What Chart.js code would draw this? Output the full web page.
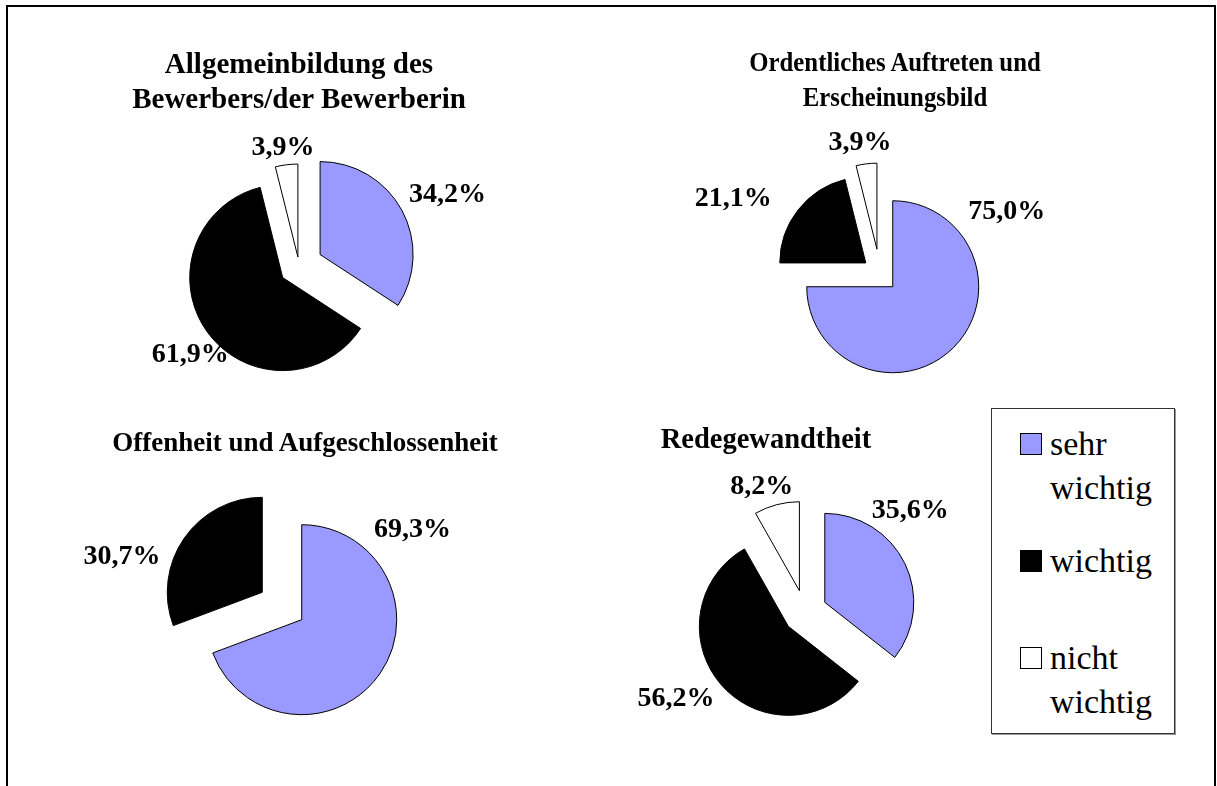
<!DOCTYPE html>
<html lang="de">
<head>
<meta charset="utf-8">
<title>Wichtigkeit von Merkmalen</title>
<script src="https://cdn.jsdelivr.net/npm/chart.js@4.4.0/dist/chart.umd.min.js"></script>
<style>
    body { margin: 0; background: #fff; font-family: "Liberation Serif", "Times New Roman", serif; }
    #page { position: relative; width: 1217px; height: 786px; overflow: hidden; }
    #frame { position: absolute; left: 6px; top: 5px; width: 1206px; height: 820px;
             border: 2px solid #000; border-bottom: none; }
    .pie { position: absolute; }
    .title { position: absolute; font-family: "Liberation Serif", "Times New Roman", serif; font-weight: bold;
             text-align: center; line-height: 35px; white-space: nowrap; }
    #legend { position: absolute; left: 991px; top: 408px; width: 182px; height: 324px;
              border: 1px solid #333; box-shadow: 1px 1px 0 #999;
              font-family: "Liberation Serif", "Times New Roman", serif; font-size: 34px; line-height: 44px; }
    .entry { display: flex; align-items: flex-start; position: absolute; left: 28px; }
    .swatch { width: 20px; height: 20px; border: 1px solid #000; margin-top: 11px; margin-right: 8px; flex: none; }
    .txt { width: 125px; font-family: "Liberation Serif", "Times New Roman", serif; font-weight: normal; }
</style>
</head>
<body>
<div id="page">
    <div id="frame"></div>
    <div id="legend"></div>
</div>
<script>
// Kategorien (Legende)
const categories = ['sehr wichtig', 'wichtig', 'nicht wichtig'];
const colors = ['#9999FF', '#000000', '#FFFFFF'];

// Diagrammtitel
const titles = [
    ['Allgemeinbildung des', 'Bewerbers/der Bewerberin'],
    ['Ordentliches Auftreten und', 'Erscheinungsbild'],
    ['Offenheit und Aufgeschlossenheit'],
    ['Redegewandtheit']
];

// Anteile in Prozent (sehr wichtig, wichtig, nicht wichtig)
const allgemeinbildung = [34.2, 61.9, 3.9];
const auftreten = [75.0, 21.1, 3.9];
const offenheit = [69.3, 30.7, 0];
const redegewandtheit = [35.6, 56.2, 8.2];

const series = [allgemeinbildung, auftreten, offenheit, redegewandtheit];

// Layout der vier Kreise: Mittelpunkt, Radius, Explosion je Segment (px),
// Lage der Beschriftung (Winkel in Grad ab 12 Uhr, Abstand in Radien)
const panels = [
    { cx: 299, cy: 266, r: 93, explode: [24, 20, 9],
      place: [[64.5, 1.77], [230.8, 1.51], [352.3, 1.28]],
      title: { x: 299, top: 46, size: 29, sx: 1 } },
    { cx: 880, cy: 274, r: 86, explode: [18, 18, 25],
      place: [[64.0, 1.64], [297.3, 1.92], [351.3, 1.54]],
      title: { x: 895, top: 44, size: 28, sx: 0.885 } },
    { cx: 282, cy: 606, r: 95, explode: [24, 24, 24],
      place: [[59.7, 1.59], [287.0, 1.76], [0, 1.5]],
      title: { x: 305, top: 425, size: 27, sx: 1 } },
    { cx: 805, cy: 612, r: 89, explode: [22, 22, 22],
      place: [[46.1, 1.64], [236.0, 1.75], [341.0, 1.49]],
      title: { x: 766, top: 421, size: 28.5, sx: 1 } }
];

const CW = 520, CH = 340;

// Segmente einzeln herausruecken (reine Verschiebung entlang der Winkelhalbierenden)
const explodeSlices = {
    id: 'explodeSlices',
    beforeDatasetDraw(chart, args, opts) {
        const ctx = chart.ctx;
        args.meta.data.forEach((arc, i) => {
            const mid = (arc.startAngle + arc.endAngle) / 2;
            const d = opts.explode[i] || 0;
            ctx.save();
            ctx.translate(Math.cos(mid) * d, Math.sin(mid) * d);
            arc.draw(ctx, chart.chartArea);
            ctx.restore();
        });
        return false;
    }
};

// Prozentbeschriftung neben den Segmenten
const pieLabels = {
    id: 'pieLabels',
    afterDatasetsDraw(chart, args, opts) {
        const ctx = chart.ctx;
        const meta = chart.getDatasetMeta(0);
        const values = chart.data.datasets[0].data;
        ctx.save();
        ctx.font = 'bold 28px "Liberation Serif", "Times New Roman", serif';
        ctx.fillStyle = '#000';
        ctx.textAlign = 'center';
        ctx.textBaseline = 'middle';
        meta.data.forEach((arc, i) => {
            if (!values[i]) return;
            const a = opts.place[i][0] * Math.PI / 180;
            const dist = arc.outerRadius * opts.place[i][1];
            const x = arc.x + Math.sin(a) * dist;
            const y = arc.y - Math.cos(a) * dist;
            ctx.fillText(values[i].toFixed(1).replace('.', ',') + '%', x, y);
        });
        ctx.restore();
    }
};

const page = document.getElementById('page');

panels.forEach((p, n) => {
    const canvas = document.createElement('canvas');
    canvas.className = 'pie';
    canvas.width = CW;
    canvas.height = CH;
    canvas.style.left = (p.cx - CW / 2) + 'px';
    canvas.style.top = (p.cy - CH / 2) + 'px';
    page.appendChild(canvas);

    const t = document.createElement('div');
    t.className = 'title';
    t.style.left = p.title.x + 'px';
    t.style.top = p.title.top + 'px';
    t.style.fontSize = p.title.size + 'px';
    t.style.transform = 'translateX(-50%) scaleX(' + p.title.sx + ')';
    t.innerHTML = titles[n].join('<br>');
    page.appendChild(t);

    new Chart(canvas, {
        type: 'pie',
        data: {
            labels: categories,
            datasets: [{
                data: series[n],
                backgroundColor: colors,
                borderColor: '#000',
                borderWidth: 1,
                borderJoinStyle: 'miter',
                hoverOffset: 0,
                offset: 0
            }]
        },
        options: {
            responsive: false,
            animation: false,
            events: [],
            radius: p.r,
            layout: { padding: 0 },
            plugins: {
                legend: { display: false },
                tooltip: { enabled: false },
                explodeSlices: { explode: p.explode },
                pieLabels: { place: p.place }
            }
        },
        plugins: [explodeSlices, pieLabels]
    });
});

// Legende
const legend = document.getElementById('legend');
const entryTops = [13, 130, 227];
categories.forEach((cat, i) => {
    const e = document.createElement('div');
    e.className = 'entry';
    e.style.top = entryTops[i] + 'px';
    const sw = document.createElement('span');
    sw.className = 'swatch';
    sw.style.background = colors[i];
    const txt = document.createElement('span');
    txt.className = 'txt';
    txt.textContent = cat;
    e.appendChild(sw);
    e.appendChild(txt);
    legend.appendChild(e);
});
</script>
</body>
</html>
